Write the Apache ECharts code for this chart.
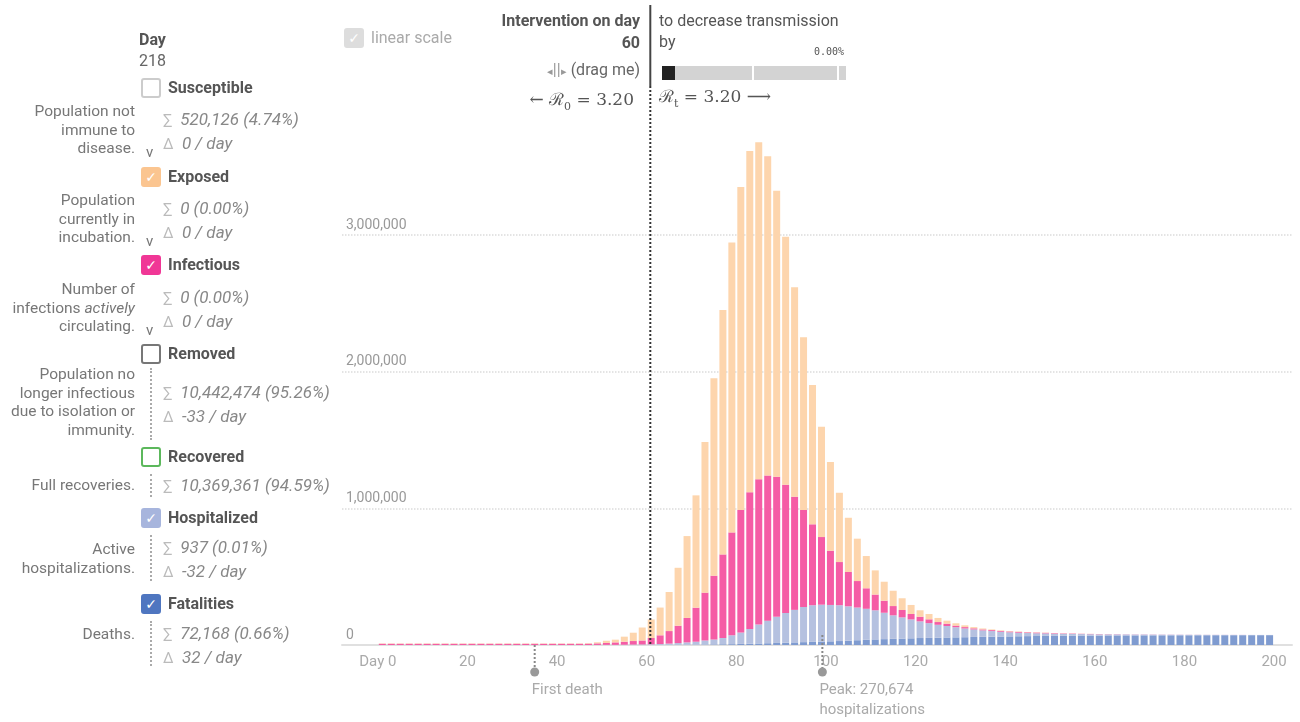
<!DOCTYPE html>
<html>
<head>
<meta charset="utf-8">
<title>Epidemic calculator</title>
<script src="https://cdn.jsdelivr.net/npm/echarts@6.0.0/dist/echarts.min.js"></script>
<style>
  html, body { margin: 0; padding: 0; background: #fff; }
  body { width: 1300px; height: 722px; position: relative; overflow: hidden; font-family: Roboto, 'Liberation Sans', sans-serif; }
  #chart { position: absolute; left: 0; top: 0; width: 1300px; height: 722px; }
  .t { position: absolute; white-space: nowrap; transform: translateY(-50%); line-height: 1.2; z-index: 2; }
  .r { transform: translate(-100%, -50%); text-align: right; }
  .b { font-weight: bold; color: #555; font-size: 16px; }
  .desc { color: #777; font-size: 15.5px; }
  .stat { color: #888; font-size: 17px; font-style: italic; }
  .sym { color: #bbb; font-size: 15px; font-style: normal; }
  .box { position: absolute; width: 16px; height: 16px; border: 2px solid; border-radius: 3px; color: #fff; font-size: 14px; line-height: 16px; text-align: center; z-index: 2; font-family: 'DejaVu Sans', sans-serif; }
  .dots { position: absolute; border-left: 2px dotted #aaa; width: 0; z-index: 2; }
  .math { font-family: 'DejaVu Serif', 'Liberation Serif', serif; font-size: 17px; color: #555; }
</style>
</head>
<body>
<div id="chart"></div>
<div id="overlay"></div>
<script>
// 天数（每两天一根柱，画在奇数天）
const days = Array.from({ length: 100 }, (_, i) => 2 * i + 1)
// 类目轴覆盖 -7 ~ 203 的奇数天，两端留白
const slots = Array.from({ length: 106 }, (_, i) => String(2 * i - 7))

// 各组数值，单位：千人
const UNIT = 1000
const exposed = [
  3, 3, 3, 3, 3, 3, 3, 3, 3, 3,
  3, 3, 3, 3, 3, 3, 3, 3, 3, 3,
  3, 3, 3, 4, 8, 16, 20, 37, 61, 95,
  136, 203, 286, 424, 599, 822, 1102, 1444, 1788, 2122,
  2364, 2497, 2467, 2336, 2092, 1814, 1532, 1263, 1019, 807,
  649, 507, 397, 310, 236, 177, 139, 112, 86, 66,
  47, 39, 30, 22, 17, 13, 9, 7, 5, 4,
  3, 3, 2, 2, 2, 1, 1, 1, 1, 1,
  0.5, 0.5, 0, 0, 0, 0, 0, 0, 0, 0,
  0, 0, 0, 0, 0, 0, 0, 0, 0, 0
]
const infectious = [
  9, 9, 9, 9, 9, 9, 9, 9, 9, 9,
  9, 9, 9, 9, 9, 9, 9, 9, 9, 9,
  9, 9, 9, 10, 11.5, 14, 18, 22, 26, 29,
  46, 64, 92, 127, 179, 249, 350, 467, 612, 753,
  897, 1000, 1062, 1063, 1025, 939, 828, 710, 592, 495,
  397, 316, 251, 194, 150, 115, 88, 68, 54, 40,
  34, 28, 20, 17, 12, 10, 8, 7, 7, 6,
  6, 6, 5, 5, 4, 4, 3, 3, 2, 2,
  2, 1.5, 1.5, 1, 1, 1, 1, 0.8, 0.7, 0.6,
  0.5, 0.5, 0.4, 0.4, 0.3, 0.3, 0.3, 0.2, 0.2, 0.2
]
const hospitalized = [
  0, 0, 0, 0, 0, 0, 0, 0, 0, 0,
  0, 0, 0, 0, 0, 0, 0, 0, 0, 0,
  0, 0, 0, 0, 0.5, 1, 1, 2, 3, 3.5,
  4.5, 6.5, 9, 13, 17.5, 22, 30, 36, 46, 65,
  83, 108, 139, 165, 191, 217, 238, 257, 268, 270,
  266, 262, 251, 239, 227, 213, 193, 172, 155, 138,
  122, 108, 95, 84, 74, 64, 55, 47, 41, 35,
  30, 26, 23, 20, 18, 16, 14, 13, 11, 10,
  9, 8, 7.5, 7, 6.5, 6, 5.5, 5, 4.6, 4.2,
  3.9, 3.6, 3.3, 3, 2.8, 2.5, 2.3, 2.1, 1.9, 1.7
]
const fatalities = [
  0, 0, 0, 0, 0, 0, 0, 0, 0, 0,
  0, 0, 0, 0, 0, 0, 0, 0, 0, 0,
  0, 0, 0, 0, 0, 0, 0, 0, 0, 0.5,
  0.5, 0.5, 1, 1, 1.5, 2, 3, 4, 5, 6,
  8, 9, 11, 13, 15, 17, 19, 21, 23, 25,
  27, 29, 32, 35, 38, 41, 43, 45, 47, 49,
  51, 52, 53, 55, 56, 57, 59, 60, 61, 62,
  63, 64, 65, 66, 67, 67, 68, 68, 69, 69,
  69, 70, 70, 70, 70, 70.5, 70.5, 70.7, 70.8, 71,
  71, 71.2, 71.3, 71.4, 71.5, 71.6, 71.7, 71.8, 71.9, 72
]

// 坐标轴刻度
const xTicks = [0, 20, 40, 60, 80, 100, 120, 140, 160, 180, 200]
const yTicks = [0, 1000000, 2000000, 3000000]

// 标注
const interventionDay = 60
const interventionLine = 60.8
const annotations = [
  { day: 35, lines: ['First death'], from: 0 },
  { day: 99.2, lines: ['Peak: 270,674', 'hospitalizations'], from: -10 }
]

// 颜色
const colors = {
  exposed: '#fdd5ad',
  infectious: '#f55ca5',
  hospitalized: '#b5c1e0',
  fatalities: '#7f9bd0'
}

// 把每组数值放到对应的类目上
const toSlots = arr => slots.map(s => {
  const i = days.indexOf(Number(s))
  return i >= 0 ? arr[i] * UNIT : '-'
})

const barSeries = (name, arr, color) => ({
  name,
  type: 'bar',
  stack: 'total',
  barWidth: 7,
  xAxisIndex: 0,
  itemStyle: { color },
  data: toSlots(arr)
})

const lineColor = '#dcdcdc'
const option = {
  animation: false,
  grid: { left: 342, right: 8, top: 30, bottom: 77 },
  xAxis: [
    {
      // 柱子用的类目轴
      type: 'category',
      data: slots,
      boundaryGap: true,
      show: false
    },
    {
      // 显示刻度标签用的数值轴
      type: 'value',
      position: 'bottom',
      min: -8,
      max: 204,
      interval: 4,
      splitLine: { show: false },
      axisTick: { show: false },
      axisLine: { show: true, onZero: false, lineStyle: { color: '#e0e0e0', width: 2 } },
      axisLabel: {
        interval: 0,
        margin: 10,
        color: '#aaa',
        fontSize: 15,
        fontFamily: 'Roboto',
        formatter: v => (v === 0 ? 'Day 0' : (xTicks.includes(v) ? String(v) : ''))
      }
    }
  ],
  yAxis: {
    type: 'value',
    min: 0,
    max: 4500000,
    interval: 1000000,
    axisLine: { show: false },
    axisTick: { show: false },
    splitLine: {
      show: true,
      lineStyle: {
        type: 'dotted',
        width: 1.5,
        color: ['rgba(0,0,0,0)', lineColor, lineColor, lineColor, 'rgba(0,0,0,0)', 'rgba(0,0,0,0)']
      }
    },
    axisLabel: {
      inside: true,
      margin: 4,
      verticalAlign: 'bottom',
      padding: [0, 0, 3, 0],
      color: '#999',
      fontSize: 14,
      fontFamily: 'Roboto',
      formatter: v => (yTicks.includes(v) ? v.toLocaleString('en-US') : '')
    }
  },
  series: [
    barSeries('Fatalities', fatalities, colors.fatalities),
    barSeries('Hospitalized', hospitalized, colors.hospitalized),
    barSeries('Infectious', infectious, colors.infectious),
    barSeries('Exposed', exposed, colors.exposed)
  ]
}

const chart = echarts.init(document.getElementById('chart'))
chart.setOption(option)

// 干预线和轴下方的标注
const xPx = d => chart.convertToPixel({ xAxisIndex: 1 }, d)
const y0 = chart.convertToPixel({ yAxisIndex: 0 }, 0)
const xi = xPx(interventionLine)
const graphics = [
  {
    type: 'line',
    shape: { x1: xi, y1: 86, x2: xi, y2: y0 },
    style: { stroke: '#333', lineWidth: 2, lineDash: [2, 2] },
    z: 100
  },
  {
    type: 'line',
    shape: { x1: xi, y1: 5, x2: xi, y2: 86 },
    style: { stroke: '#444', lineWidth: 2 },
    z: 100
  }
]
annotations.forEach(a => {
  const x = xPx(a.day)
  graphics.push({
    type: 'line',
    shape: { x1: x, y1: y0 + a.from, x2: x, y2: y0 + 24 },
    style: { stroke: '#888', lineWidth: 2, lineDash: [2, 2] },
    z: 100
  })
  graphics.push({
    type: 'circle',
    shape: { cx: x, cy: y0 + 27, r: 4.5 },
    style: { fill: '#999' },
    z: 100
  })
  a.lines.forEach((line, i) => {
    graphics.push({
      type: 'text',
      style: {
        text: line, x: x - 3, y: y0 + 45 + i * 20,
        fill: '#aaa', font: '15px Roboto', verticalAlign: 'middle'
      },
      z: 100
    })
  })
})
chart.setOption({ graphic: graphics })

// 左侧面板和顶部控件
const overlay = document.getElementById('overlay')
const put = (html, x, y, cls, extra) => {
  const el = document.createElement('div')
  el.className = 't ' + (cls || '')
  el.style.left = x + 'px'
  el.style.top = y + 'px'
  if (extra) el.style.cssText += extra
  el.innerHTML = html
  overlay.appendChild(el)
  return el
}
const box = (x, y, border, fill, checked) => {
  const el = document.createElement('div')
  el.className = 'box'
  el.style.left = x + 'px'
  el.style.top = (y - 10) + 'px'
  el.style.borderColor = border
  el.style.background = fill
  el.textContent = checked ? '✓' : ''
  overlay.appendChild(el)
}
const dots = (x, y1, y2) => {
  const el = document.createElement('div')
  el.className = 'dots'
  el.style.left = x + 'px'
  el.style.top = y1 + 'px'
  el.style.height = (y2 - y1) + 'px'
  overlay.appendChild(el)
}

put('Day', 139, 40, 'b')
put('218', 139, 61, '', 'color:#666;font-size:16px')

const panel = [
  { name: 'Susceptible', y: 88, border: '#ccc', fill: '#fff', checked: false,
    desc: ['Population not', 'immune to', 'disease.'], descY: 111,
    sum: '520,126 (4.74%)', delta: '0 / day', statY: 119, arrowY: 152 },
  { name: 'Exposed', y: 177, border: '#fbc590', fill: '#fbc590', checked: true,
    desc: ['Population', 'currently in', 'incubation.'], descY: 200,
    sum: '0 (0.00%)', delta: '0 / day', statY: 208, arrowY: 241 },
  { name: 'Infectious', y: 265, border: '#f03796', fill: '#f03796', checked: true,
    desc: ['Number of', 'infections <i>actively</i>', 'circulating.'], descY: 289,
    sum: '0 (0.00%)', delta: '0 / day', statY: 297, arrowY: 330 },
  { name: 'Removed', y: 354, border: '#777', fill: '#fff', checked: false,
    desc: ['Population no', 'longer infectious', 'due to isolation or', 'immunity.'], descY: 374,
    sum: '10,442,474 (95.26%)', delta: '-33 / day', statY: 392, dotted: [368, 440] },
  { name: 'Recovered', y: 457, border: '#5cb85c', fill: '#fff', checked: false,
    desc: ['Full recoveries.'], descY: 485,
    sum: '10,369,361 (94.59%)', statY: 485, dotted: [474, 497] },
  { name: 'Hospitalized', y: 518, border: '#a7b5dd', fill: '#a7b5dd', checked: true,
    desc: ['Active', 'hospitalizations.'], descY: 549,
    sum: '937 (0.01%)', delta: '-32 / day', statY: 547, dotted: [535, 581] },
  { name: 'Fatalities', y: 604, border: '#4f76c0', fill: '#4f76c0', checked: true,
    desc: ['Deaths.'], descY: 634,
    sum: '72,168 (0.66%)', delta: '32 / day', statY: 633, dotted: [621, 666] }
]

panel.forEach(p => {
  box(141, p.y, p.border, p.fill, p.checked)
  put(p.name, 168, p.y, 'b')
  p.desc.forEach((line, i) => put(line, 135, p.descY + i * 18.5, 'r desc'))
  put('<span class="sym">∑</span>&nbsp; ' + p.sum, 163, p.statY, 'stat')
  if (p.delta) put('<span class="sym">Δ</span>&nbsp; ' + p.delta, 163, p.statY + 24, 'stat')
  if (p.arrowY) put('v', 146, p.arrowY, '', 'color:#777;font-size:15px')
  if (p.dotted) dots(150, p.dotted[0], p.dotted[1])
})

// 顶部控件
box(344, 38, '#ddd', '#ddd', true)
put('linear scale', 371, 38, '', 'color:#aaa;font-size:16px')
put('Intervention on day', 640, 21, 'r b')
put(String(interventionDay), 640, 43, 'r b')
put('<span style="font-size:11px;color:#999">◂</span><span style="color:#999">||</span><span style="font-size:11px;color:#999">▸</span> (drag me)', 640, 70, 'r', 'color:#666;font-size:16px')
put('← ℛ<sub style="font-size:11px">0</sub> = 3.20', 634, 101, 'r math')
put('to decrease transmission', 659, 21, '', 'color:#555;font-size:16px')
put('by', 659, 42, '', 'color:#555;font-size:16px')
put('0.00%', 844, 52, 'r', 'font-family:"DejaVu Sans Mono",monospace;font-size:10px;color:#555')
put('ℛ<sub style="font-size:11px">t</sub> = 3.20 ⟶', 659, 98, 'math')

// 滑块
const slider = document.createElement('div')
slider.style.cssText = 'position:absolute;left:662px;top:66px;width:184px;height:14px;background:#d3d3d3;z-index:2'
slider.innerHTML =
  '<div style="position:absolute;left:0;top:0;width:13px;height:14px;background:#222"></div>' +
  '<div style="position:absolute;left:90px;top:0;width:2px;height:14px;background:#fff"></div>' +
  '<div style="position:absolute;left:175px;top:0;width:2px;height:14px;background:#fff"></div>'
overlay.appendChild(slider)

window.addEventListener('resize', () => chart.resize())
</script>
</body>
</html>
